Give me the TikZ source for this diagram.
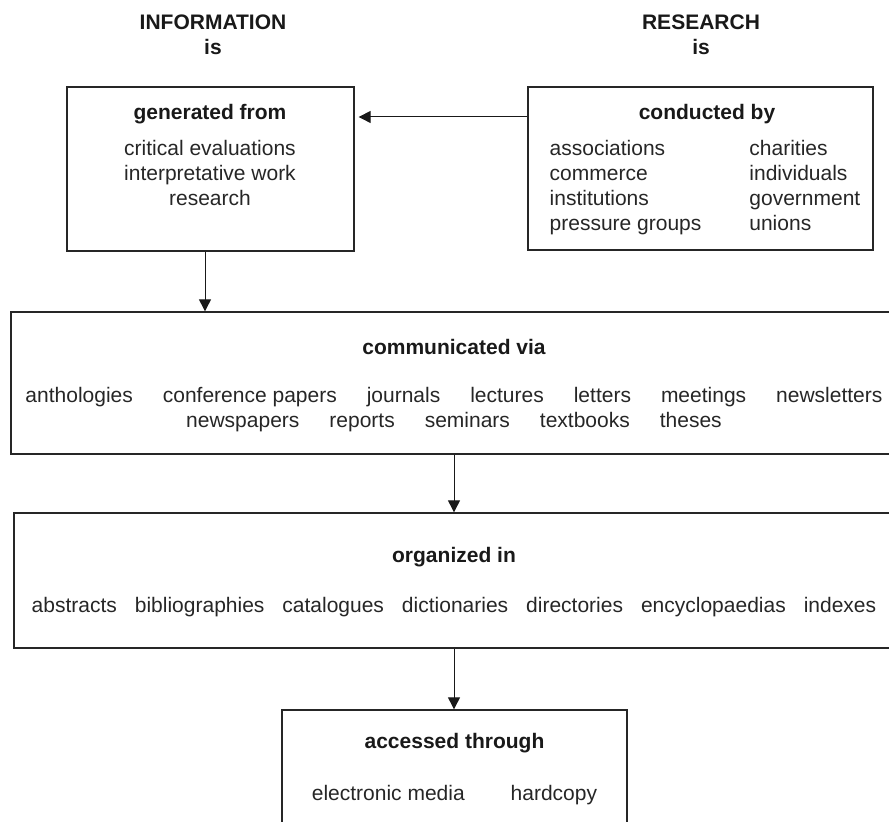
\documentclass[tikz,border=0pt]{standalone}
\usepackage{fontspec}
\setmainfont{Liberation Sans}
\usetikzlibrary{arrows.meta,calc}
\newcommand{\wordgap}{\hspace{15pt}}

\begin{document}
\begin{tikzpicture}[
  x=0.5pt,y=-0.5pt,
  font=\fontsize{10.5pt}{12.5pt}\selectfont,
  box/.style={draw=black!85,line width=0.65pt,inner sep=0pt},
  head/.style={font=\fontsize{10.5pt}{12.5pt}\selectfont\bfseries,inner sep=0pt,align=center,text=black!90},
  items/.style={inner sep=0pt,align=center,text=black!85},
  arr/.style={-{Triangle[length=6pt,width=6pt]},line width=0.5pt,draw=black!90}
]
\useasboundingbox (0,0) rectangle (889,822);
\clip (0,0) rectangle (889,822);

\node[head] (info) at (213,35) {INFORMATION\\is};
\node[head] (res) at (701,35) {RESEARCH\\is};

% top row
\node[box,minimum width=143.5pt,minimum height=82pt] (gen) at (210.5,169) {};
\node[head] (genhead) at (210,114) {generated from};
\node[items] (genitems) at (210,173) {critical evaluations\\interpretative work\\research};

\node[box,minimum width=172.5pt,minimum height=81.5pt] (cond) at (700.5,168.5) {};
\node[head] (condhead) at (707,114) {conducted by};
\node[items] (conditems) at (705,188) {\begin{tabular}{@{}l@{\hspace{24pt}}l@{}}
associations & charities\\
commerce & individuals\\
institutions & government\\
pressure groups & unions
\end{tabular}};

% wide boxes
\node[box,minimum width=443pt,minimum height=71pt] (comm) at (454,383) {};
\node[head] (commhead) at (454,347) {communicated via};
\node[items] (commitems) at (454,409.5) {anthologies\wordgap conference papers\wordgap journals\wordgap lectures\wordgap letters\wordgap meetings\wordgap newsletters\\
newspapers\wordgap reports\wordgap seminars\wordgap textbooks\wordgap theses};

\node[box,minimum width=440pt,minimum height=67.5pt] (org) at (454,580.5) {};
\node[head] (orghead) at (454,557) {organized in};
\node[items] (orgitems) at (454,607) {abstracts\hspace{9pt}bibliographies\hspace{9pt}catalogues\hspace{9pt}dictionaries\hspace{9pt}directories\hspace{9pt}encyclopaedias\hspace{9pt}indexes};

\node[box,minimum width=172.5pt,minimum height=65pt] (acc) at (454.5,775) {};
\node[head] (acchead) at (454.5,743) {accessed through};
\node[items] (accitems) at (454.5,795) {electronic media\hspace{23pt}hardcopy};

% connectors
\draw[arr,shorten >=2pt] ($(cond.west |- condhead)+(0,3)$) -- ($(gen.east |- condhead)+(0,3)$);
\draw[arr] ($(gen.south)+(-5.5,0)$) -- ($(gen.south |- comm.north)+(-5.5,0)$);
\draw[arr] (comm.south) -- (org.north);
\draw[arr] (org.south) -- (org.south |- acc.north);
\end{tikzpicture}
\end{document}
